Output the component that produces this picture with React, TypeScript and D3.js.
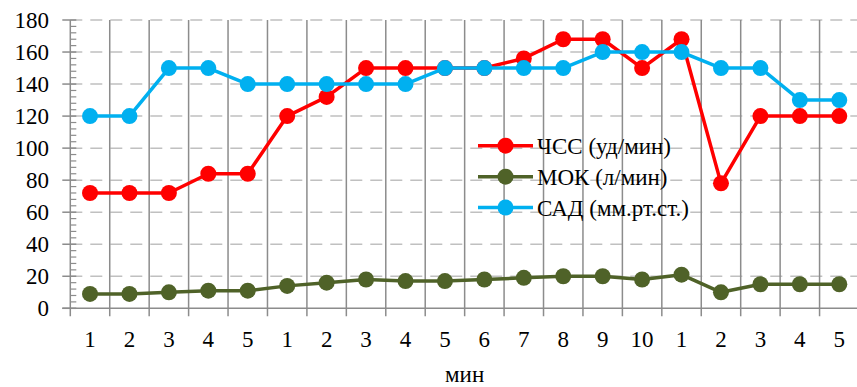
import React from "react";
import * as d3 from "d3";

const categories = ["1","2","3","4","5","1","2","3","4","5","6","7","8","9","10","1","2","3","4","5"];
const hr = [72,72,72,84,84,120,132,150,150,150,150,156,168,168,150,168,78,120,120,120];
const mok = [9,9,10,11,11,14,16,18,17,17,18,19,20,20,18,21,10,15,15,15];
const sad = [120,120,150,150,140,140,140,140,140,150,150,150,150,160,160,160,150,150,130,130];
const yTicks = [0,20,40,60,80,100,120,140,160,180];
const seriesNames = ["ЧСС (уд/мин)", "МОК (л/мин)", "САД (мм.рт.ст.)"];
const seriesColors = ["#ff0000", "#4f6228", "#00b0f0"];
const xTitle = "мин";

const W = 857, H = 387;
const left = 70.3, right = 859, top = 20, bottom = 308.3;
const FONT = "'Times New Roman', Tinos, 'Liberation Serif', 'DejaVu Serif', 'Noto Serif', Times, Georgia, serif";
const ts: React.CSSProperties = { fontFamily: FONT, fontSize: "23px" };

export default function App() {
  const x = d3.scaleBand<number>().domain(categories.map((_, i) => i)).range([left, right]);
  const y = d3.scaleLinear().domain([0, 180]).range([bottom, top]);
  const cx = (i: number) => (x(i) as number) + x.bandwidth() / 2;
  const line = d3.line<number>().x((_, i) => cx(i)).y(d => y(d));
  const series = [hr, mok, sad];
  const minor = d3.range(0, 181, 4).filter(v => v % 20 !== 0);
  const boundaries = d3.range(1, categories.length + 1).map(k => left + k * x.bandwidth());
  const legX = 478, legY = [145.7, 176.7, 207.5];

  return (
    <svg width={W} height={H} style={{ position: "absolute", left: 0, top: 0, background: "#fff" }}>
      {yTicks.filter(t => t > 0).map(t => (
        <line key={"h" + t} x1={left} x2={right} y1={y(t)} y2={y(t)} stroke="#c0c0c0" strokeWidth={1.5} strokeDasharray="12,8" />
      ))}
      {boundaries.map((bx, k) => (
        <line key={"v" + k} x1={bx} x2={bx} y1={top} y2={bottom + 8} stroke="#8c8c8c" strokeWidth={1.5} />
      ))}
      <line x1={left} x2={left} y1={top} y2={bottom + 8} stroke="#8c8c8c" strokeWidth={1.5} />
      <line x1={left - 8} x2={right} y1={bottom} y2={bottom} stroke="#8c8c8c" strokeWidth={1.5} />
      {yTicks.map(t => (
        <line key={"mt" + t} x1={left - 8} x2={left + 6} y1={y(t)} y2={y(t)} stroke="#8c8c8c" strokeWidth={1.5} />
      ))}
      {minor.map(t => (
        <line key={"mn" + t} x1={left} x2={left + 6} y1={y(t)} y2={y(t)} stroke="#8c8c8c" strokeWidth={1.2} />
      ))}
      {yTicks.map(t => (
        <text key={"yl" + t} x={49} y={y(t) + 8} textAnchor="end" style={ts} fill="#000">{t}</text>
      ))}
      {categories.map((c, i) => (
        <text key={"xl" + i} x={cx(i)} y={347} textAnchor="middle" style={ts} fill="#000">{c}</text>
      ))}
      <text x={(left + right) / 2} y={382} textAnchor="middle" style={ts} fill="#000">{xTitle}</text>
      {series.map((s, si) => (
        <g key={"s" + si}>
          <path d={line(s) || ""} fill="none" stroke={seriesColors[si]} strokeWidth={3.5} strokeLinejoin="round" />
          {s.map((v, i) => (
            <circle key={i} cx={cx(i)} cy={y(v)} r={8} fill={seriesColors[si]} />
          ))}
        </g>
      ))}
      {seriesNames.map((n, si) => (
        <g key={"lg" + si}>
          <line x1={legX} x2={legX + 55} y1={legY[si]} y2={legY[si]} stroke={seriesColors[si]} strokeWidth={3.5} />
          <circle cx={legX + 27.5} cy={legY[si]} r={8} fill={seriesColors[si]} />
          <text x={537} y={legY[si] + 8} style={ts} fill="#000">{n}</text>
        </g>
      ))}
    </svg>
  );
}
